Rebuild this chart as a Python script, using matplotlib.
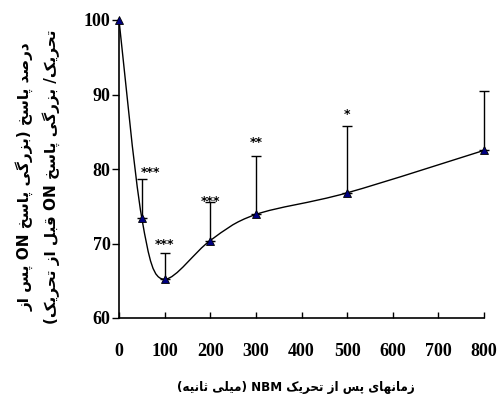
import matplotlib
matplotlib.use('Agg')
import matplotlib.pyplot as plt
from matplotlib.path import Path
from matplotlib.patches import PathPatch
import numpy as np

# ---------------- data ----------------
time_ms = [0, 50, 100, 200, 300, 500, 800]
response_pct = [100.0, 73.4, 65.2, 70.4, 73.9, 76.8, 82.5]
err_upper = [0.0, 5.2, 3.5, 5.2, 7.8, 9.0, 8.0]
sig_labels = ['', '***', '***', '***', '**', '*', '']
sig_y = [None, 79.5, 69.9, 75.6, 83.6, 87.3, None]
x_ticks = [0, 100, 200, 300, 400, 500, 600, 700, 800]
y_ticks = [60, 70, 80, 90, 100]
x_label = 'زمانهای پس از تحریک NBM (میلی ثانیه)'
y_label_lines = ['درصد پاسخ (بزرگی پاسخ ON پس از',
                 'تحریک/ بزرگی پاسخ ON قبل از تحریک)']

# ---------------- simple Arabic/Persian shaping ----------------
FORMS = {
    '\u0627': ('\uFE8D', '\uFE8E', None, None),
    '\u0628': ('\uFE8F', '\uFE90', '\uFE91', '\uFE92'),
    '\u062A': ('\uFE95', '\uFE96', '\uFE97', '\uFE98'),
    '\u062B': ('\uFE99', '\uFE9A', '\uFE9B', '\uFE9C'),
    '\u062D': ('\uFEA1', '\uFEA2', '\uFEA3', '\uFEA4'),
    '\u062E': ('\uFEA5', '\uFEA6', '\uFEA7', '\uFEA8'),
    '\u062F': ('\uFEA9', '\uFEAA', None, None),
    '\u0631': ('\uFEAD', '\uFEAE', None, None),
    '\u0632': ('\uFEAF', '\uFEB0', None, None),
    '\u0633': ('\uFEB1', '\uFEB2', '\uFEB3', '\uFEB4'),
    '\u0635': ('\uFEB9', '\uFEBA', '\uFEBB', '\uFEBC'),
    '\u0642': ('\uFED5', '\uFED6', '\uFED7', '\uFED8'),
    '\u0644': ('\uFEDD', '\uFEDE', '\uFEDF', '\uFEE0'),
    '\u0645': ('\uFEE1', '\uFEE2', '\uFEE3', '\uFEE4'),
    '\u0646': ('\uFEE5', '\uFEE6', '\uFEE7', '\uFEE8'),
    '\u0647': ('\uFEE9', '\uFEEA', '\uFEEB', '\uFEEC'),
    '\u067E': ('\uFB56', '\uFB57', '\uFB58', '\uFB59'),
    '\u06A9': ('\uFB8E', '\uFB8F', '\uFB90', '\uFB91'),
    '\u06AF': ('\uFB92', '\uFB93', '\uFB94', '\uFB95'),
    '\u06CC': ('\uFBFC', '\uFBFD', '\uFBFE', '\uFBFF'),
}
MIRROR = {'(': ')', ')': '('}


def shape_rtl(text):
    chars = list(text)
    out = []
    for i, c in enumerate(chars):
        if c not in FORMS:
            out.append(c)
            continue
        iso, fin, ini, med = FORMS[c]
        prev = chars[i - 1] if i > 0 else None
        nxt = chars[i + 1] if i + 1 < len(chars) else None
        join_prev = prev in FORMS and FORMS[prev][2] is not None
        join_next = nxt in FORMS and ini is not None
        if join_prev and join_next:
            out.append(med)
        elif join_prev:
            out.append(fin)
        elif join_next:
            out.append(ini)
        else:
            out.append(iso)
    vis = out[::-1]
    res = []
    run = []
    for c in vis:
        if c.isascii() and c.isalnum():
            run.append(c)
        else:
            if run:
                res.extend(run[::-1])
                run = []
            res.append(MIRROR.get(c, c))
    if run:
        res.extend(run[::-1])
    return ''.join(res)


# ---------------- figure ----------------
fig = plt.figure(figsize=(4.97, 4.0), dpi=100)
ax = fig.add_axes([119 / 497, 1 - 318 / 400, 365 / 497, 298 / 400])

# smoothed connecting line (cubic Bezier through the data points)
xs = np.array(time_ms, float)
ys = np.array(response_pct, float)
n = len(xs)
tang = []
for i in range(n):
    a = max(i - 1, 0)
    b = min(i + 1, n - 1)
    t = np.array([xs[b] - xs[a], ys[b] - ys[a]])
    if 0 < i < n - 1 and (ys[i] - ys[a]) * (ys[b] - ys[i]) < 0:
        t[1] = 0.0
    tang.append(t)
verts = [(xs[0], ys[0])]
codes = [Path.MOVETO]
for i in range(n - 1):
    p1 = np.array([xs[i], ys[i]])
    p2 = np.array([xs[i + 1], ys[i + 1]])
    c1 = p1 + tang[i] / 6.0
    c2 = p2 - tang[i + 1] / 6.0
    verts += [tuple(c1), tuple(c2), tuple(p2)]
    codes += [Path.CURVE4] * 3
curve = PathPatch(Path(verts, codes), facecolor='none', edgecolor='black',
                  lw=1.0, zorder=2)
ax.add_patch(curve)

ex = [t for t, e in zip(time_ms, err_upper) if e > 0]
ey = [r for r, e in zip(response_pct, err_upper) if e > 0]
ee = [e for e in err_upper if e > 0]
eb = ax.errorbar(ex, ey, yerr=[np.zeros(len(ee)), ee], fmt='none', ecolor='black',
                 elinewidth=1.0, capsize=3.5, capthick=1.0, zorder=3)
for art in list(eb.lines[1]) + list(eb.lines[2]):
    art.set_clip_on(False)

ax.plot(time_ms, response_pct, linestyle='none', marker='^', markersize=6,
        markerfacecolor='#000080', markeredgecolor='black', markeredgewidth=0.6,
        zorder=4, clip_on=False)

for t, lab, sy in zip(time_ms, sig_labels, sig_y):
    if lab:
        dx = 9 if t == 50 else 0
        ax.annotate(lab, xy=(t, sy), xytext=(dx, 0), textcoords='offset pixels',
                    ha='center', va='center', fontsize=9, fontweight='bold',
                    family='DejaVu Sans')

ax.set_xlim(0, 800)
ax.set_ylim(60, 100)
ax.set_xticks(x_ticks)
ax.set_yticks(y_ticks)
ax.set_xticklabels([str(v) for v in x_ticks], family='Liberation Serif',
                   fontweight='bold', fontsize=13)
ax.set_yticklabels([str(v) for v in y_ticks], family='Liberation Serif',
                   fontweight='bold', fontsize=13)
ax.tick_params(axis='y', direction='out', length=5, width=1, pad=1)
ax.tick_params(axis='x', direction='in', length=4.5, width=1, pad=18)
for s in ['top', 'right']:
    ax.spines[s].set_visible(False)
for s in ['left', 'bottom']:
    ax.spines[s].set_linewidth(1.2)

fig.text(296 / 497, 1 - 387 / 400, shape_rtl(x_label), ha='center', va='center',
         fontsize=9.5, fontweight='bold', fontstretch='condensed',
         family='DejaVu Sans')
ylab = '\n'.join(shape_rtl(l) for l in y_label_lines)
fig.text(38 / 497, 1 - 177 / 400, ylab, rotation=90, ha='center', va='center',
         multialignment='center', fontsize=11, fontweight='bold',
         family='DejaVu Sans', linespacing=1.6)

fig.savefig('out.png', dpi=100)
